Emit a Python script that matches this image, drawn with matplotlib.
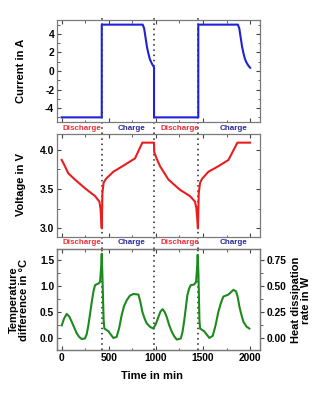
#!/usr/bin/env python3
"""Current, voltage and temperature difference over two charge/discharge cycles."""
import numpy as np
import matplotlib
matplotlib.use('Agg')
import matplotlib.pyplot as plt
from matplotlib.ticker import MultipleLocator, FormatStrFormatter
import matplotlib.transforms as mtransforms

plt.rcParams['font.family'] = ['Liberation Sans', 'DejaVu Sans']
plt.rcParams['font.weight'] = 'bold'
plt.rcParams['axes.unicode_minus'] = False

# ---- data ----
cur_t = [0, 425, 425, 860, 875, 890, 905, 920, 935, 950, 965, 980, 980,
         1450, 1450, 1870, 1885, 1900, 1915, 1930, 1945, 1960, 1980, 2000]
cur_a = [-5, -5, 5, 5, 4.6, 3.6, 2.6, 1.9, 1.3, 0.95, 0.65, 0.4, -5,
         -5, 5, 5, 4.6, 3.6, 2.6, 1.9, 1.3, 0.95, 0.6, 0.35]

volt_t = [0, 30, 70, 141, 247, 354, 400, 412, 420, 425, 432, 445, 470, 548, 672, 778,
          856, 980, 982, 1010, 1044, 1133, 1256, 1362, 1415, 1430, 1440, 1446, 1455,
          1469, 1490, 1557, 1663, 1770, 1865, 2000]
volt_v = [3.87, 3.80, 3.70, 3.62, 3.51, 3.41, 3.34, 3.25, 3.10, 3.00, 3.45, 3.58, 3.63, 3.72,
          3.81, 3.89, 4.09, 4.09, 3.97, 3.88, 3.79, 3.62, 3.49, 3.41, 3.34, 3.25, 3.10,
          3.00, 3.45, 3.58, 3.63, 3.72, 3.79, 3.87, 4.09, 4.09]

temp_t = [0, 25, 53, 80, 106, 135, 159, 185, 212, 247, 265, 283, 300, 319, 337, 354, 389,
          407, 418, 425, 432, 445, 453, 495, 548, 583, 610, 637, 662, 690, 725, 761, 814,
          835, 856, 880, 902, 940, 973, 1000, 1026, 1050, 1072, 1095, 1115, 1140, 1168,
          1195, 1221, 1264, 1282, 1299, 1317, 1334, 1352, 1370, 1405, 1426, 1437, 1444,
          1452, 1462, 1469, 1511, 1568, 1603, 1633, 1663, 1690, 1716, 1770, 1823, 1851,
          1870, 1886, 1908, 1929, 1960, 1992]
temp_d = [0.25, 0.38, 0.47, 0.42, 0.32, 0.20, 0.10, 0.03, -0.01, 0.00, 0.08, 0.25, 0.46,
          0.70, 0.90, 1.02, 1.05, 1.08, 1.35, 1.62, 1.20, 0.35, 0.19, 0.14, 0.01, 0.03, 0.20,
          0.45, 0.62, 0.73, 0.82, 0.85, 0.84, 0.70, 0.51, 0.38, 0.29, 0.22, 0.19, 0.28, 0.41,
          0.52, 0.56, 0.50, 0.41, 0.26, 0.13, 0.04, -0.02, 0.00, 0.12, 0.32, 0.58, 0.83,
          0.95, 1.02, 1.03, 1.08, 1.35, 1.60, 1.20, 0.35, 0.19, 0.14, 0.01, 0.05, 0.25,
          0.51, 0.68, 0.80, 0.84, 0.93, 0.90, 0.78, 0.61, 0.45, 0.32, 0.23, 0.19]

switch_t = [425, 980, 1448]
phase_labels = ['Discharge', 'Charge', 'Discharge', 'Charge']
phase_pos = [210, 737, 1257, 1820]
phase_colors = ['#e8303a', '#2b2b9a', '#e8303a', '#2b2b9a']

RED = '#e81e1e'
BLUE = '#1f22d6'
GREEN = '#1d8a1d'
SPINE = '#7a7a7a'
TICK_FS = 7.4


def style_axis(ax):
    for s in ax.spines.values():
        s.set_color(SPINE)
        s.set_linewidth(0.9)
    ax.tick_params(which='both', direction='in', top=True, right=True,
                   color='#444444', labelsize=TICK_FS, pad=2)
    ax.tick_params(which='major', length=3, width=0.8)
    ax.tick_params(which='minor', length=1.8, width=0.6)
    ax.xaxis.set_major_locator(MultipleLocator(500))
    ax.xaxis.set_minor_locator(MultipleLocator(250))
    ax.set_xlim(-50, 2105)


def phase_text(ax, yfrac):
    trans = mtransforms.blended_transform_factory(ax.transData, ax.transAxes)
    for lab, x, c in zip(phase_labels, phase_pos, phase_colors):
        ax.text(x, yfrac, lab, transform=trans, ha='center', va='center',
                fontsize=5.8, fontweight='bold', color=c, clip_on=False)


def switch_lines(ax, ymin, ymax):
    for t in switch_t:
        ax.axvline(t, ymin=ymin, ymax=ymax, color='#222222', lw=1.1,
                   ls=(0, (1, 2.4)), clip_on=False, zorder=1)


fig = plt.figure(figsize=(3.24, 4.0), dpi=100)
L, W = 57 / 324, 203 / 324
ax1 = fig.add_axes([L, 1 - 122 / 400, W, 102 / 400])
ax2 = fig.add_axes([L, 1 - 237 / 400, W, 103 / 400])
ax3 = fig.add_axes([L, 1 - 350 / 400, W, 101 / 400])

# current
ax1.plot(cur_t, cur_a, color=BLUE, lw=1.5, zorder=3)
ax1.set_ylim(-5.5, 5.5)
ax1.yaxis.set_major_locator(MultipleLocator(2))
ax1.yaxis.set_minor_locator(MultipleLocator(1))
style_axis(ax1)
ax1.set_xticklabels([])
switch_lines(ax1, -0.12, 1.05)
phase_text(ax1, -0.062)

# voltage
ax2.plot(volt_t, volt_v, color=RED, lw=1.5, zorder=3)
ax2.set_ylim(2.89, 4.2)
ax2.yaxis.set_major_locator(MultipleLocator(0.5))
ax2.yaxis.set_minor_locator(MultipleLocator(0.25))
ax2.yaxis.set_major_formatter(FormatStrFormatter('%.1f'))
style_axis(ax2)
ax2.set_xticklabels([])
switch_lines(ax2, -0.12, 1.0)
phase_text(ax2, -0.058)

# temperature / heat dissipation
ax3.plot(temp_t, temp_d, color=GREEN, lw=1.5, zorder=3)
ax3.set_ylim(-0.22, 1.71)
ax3.yaxis.set_major_locator(MultipleLocator(0.5))
ax3.yaxis.set_minor_locator(MultipleLocator(0.25))
ax3.yaxis.set_major_formatter(FormatStrFormatter('%.1f'))
style_axis(ax3)
ax3.tick_params(right=False, which='both')
switch_lines(ax3, 0.0, 1.0)

ax4 = ax3.twinx()
ax4.set_ylim(-0.11, 0.855)
ax4.yaxis.set_major_locator(MultipleLocator(0.25))
ax4.yaxis.set_minor_locator(MultipleLocator(0.125))
ax4.yaxis.set_major_formatter(FormatStrFormatter('%.2f'))
for s in ax4.spines.values():
    s.set_color(SPINE)
    s.set_linewidth(0.9)
ax4.tick_params(which='both', direction='out', color='#444444', labelsize=TICK_FS, pad=2)
ax4.tick_params(which='major', length=3, width=0.8)
ax4.tick_params(which='minor', length=1.8, width=0.6)

# axis labels
lab_kw = dict(fontsize=8, fontweight='bold', ha='center', va='center')
fig.text(21 / 324, 1 - 71 / 400, 'Current in A', rotation=90, **lab_kw)
fig.text(21 / 324, 1 - 185 / 400, 'Voltage in V', rotation=90, **lab_kw)
fig.text(19 / 324, 1 - 300 / 400, 'Temperature\ndifference in \u00b0C', rotation=90,
         linespacing=1.1, **lab_kw)
fig.text(301 / 324, 1 - 300 / 400, 'Heat dissipation\nrate in W', rotation=90,
         linespacing=1.1, **lab_kw)
fig.text(152 / 324, 1 - 376 / 400, 'Time in min', **lab_kw)

fig.savefig('out.png', dpi=100)
